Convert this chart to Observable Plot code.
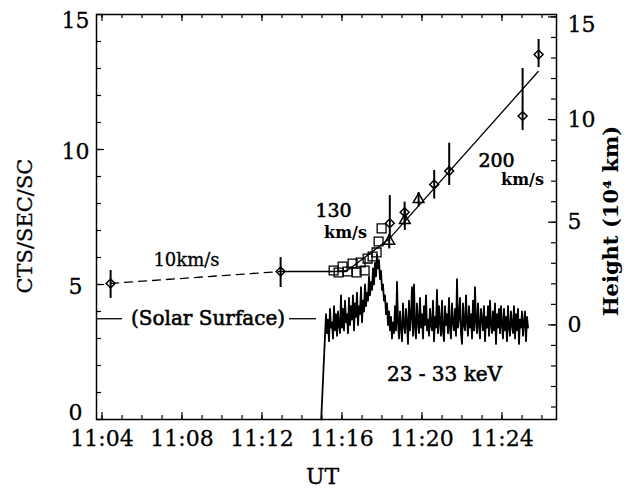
<!DOCTYPE html>
<html><head><meta charset="utf-8">
<script src="https://cdn.jsdelivr.net/npm/d3@7"></script>
<script src="https://cdn.jsdelivr.net/npm/@observablehq/plot@0.6"></script>
<style>body{margin:0;background:#fff;}</style>
</head><body><div id="chart"></div>
<script>
// time axis: minutes after 11:00 UT
const xTickValues = [4, 8, 12, 16, 20, 24];
const xTickLabels = ["11:04", "11:08", "11:12", "11:16", "11:20", "11:24"];
const xMinorTicks = d3.range(4, 27);
const yTickValues = [0, 5, 10, 15];
const yMinorTicks = d3.range(0, 16);
const hTickValues = [0, 5, 10, 15];
const hMinorTicks = d3.range(-4, 16);

// height (10^4 km) expressed on the CTS/SEC/SC axis
const H0 = 3.504, HK = 0.7604;
const hToC = h => H0 + HK * h;

// diamonds: time (min), height, error bar low/high (10^4 km)
const diamondT  = [4.43, 12.93, 18.39, 19.13, 20.61, 21.36, 25.03, 25.83];
const diamondH  = [2.02, 2.60, 4.95, 5.49, 6.84, 7.49, 10.17, 13.17];
const diamondLo = [1.29, 1.82, 4.21, 4.84, 6.13, 6.79, 9.47, 12.53];
const diamondHi = [2.65, 3.28, 6.30, 5.98, 7.52, 8.85, 12.49, 13.90];

// triangles
const triT = [18.36, 19.14, 19.83];
const triH = [4.08, 5.09, 6.11];
const triLo = [3.70, 4.60, 5.75];
const triHi = [4.40, 5.60, 6.45];

// squares
const sqT = [15.58, 15.83, 16.03, 16.28, 16.53, 16.73, 16.93, 17.13, 17.28, 17.53, 17.73, 17.83, 17.98];
const sqH = [2.65, 2.55, 2.84, 2.60, 2.99, 2.55, 3.04, 2.65, 3.23, 3.33, 3.53, 4.06, 4.70];

// fitted height-time tracks
const dashedFitT = [4.43, 12.93];
const dashedFitH = [2.02, 2.60];
const solidFitT = [12.93, 16.2, 18.36, 25.81];
const solidFitH = [2.60, 2.60, 4.19, 12.34];

// solar surface marker (height)
const solarSurfaceH = 0.3;
const solarSegLeft = [3.725, 5.03];
const solarSegRight = [13.375, 14.725];

// 23-33 keV light curve (CTS/SEC/SC), 3 s samples
const xrayLeadT = [14.96], xrayLeadC = [0];
const xrayStartT = 15.2, xrayStep = 0.05;
const xrayC = [
  3.9, 3.2, 3.7, 2.9, 4.1, 3.4, 3.6, 3.0, 4.2, 3.3, 3.9, 3.1, 4.0, 3.5, 3.2, 4.6, 3.4,
  4.1, 3.3, 4.4, 3.6, 3.9, 3.2, 4.5, 3.5, 4.2, 3.7, 4.6, 3.3, 4.3, 3.8, 4.7, 3.5, 4.2, 3.9, 4.9, 3.6,
  4.4, 4.0, 5.0, 4.2, 4.7, 4.4, 5.3, 4.6, 5.1, 4.8, 5.6, 5.0, 5.8, 5.3, 6.1, 5.6,
  5.9, 5.2, 5.5, 4.8, 5.0, 4.4, 4.6, 3.9, 4.3, 3.5, 4.0, 3.3, 3.8, 3.0, 3.6, 3.2,
  4.2, 3.3, 5.1, 3.6, 3.0, 4.0, 3.4, 2.9, 4.3, 3.5,
  3.2, 4.1, 3.6, 2.8, 4.4, 3.3, 3.8, 4.9, 3.1, 5.0,
  3.4, 3.0, 4.3, 3.6, 3.2, 4.5, 3.4, 3.9, 3.0, 4.2,
  3.5, 4.6, 3.3, 3.7, 3.1, 4.1, 3.5, 3.3, 4.4, 2.9,
  3.8, 3.4, 4.8, 3.2, 4.2, 3.6, 3.1, 4.4, 3.3, 2.9,
  4.2, 3.5, 3.9, 3.2, 4.5, 3.4, 3.0, 4.3, 3.6, 3.3,
  4.1, 3.1, 5.2, 3.4, 3.8, 4.5, 3.2, 2.8, 4.3, 3.5,
  3.3, 4.6, 3.6, 3.1, 4.2, 3.4, 3.9, 3.0, 4.4, 3.3,
  4.9, 3.6, 3.2, 4.3, 3.5, 3.0, 4.1, 3.7, 3.3, 4.2,
  2.9, 3.8, 3.4, 4.2, 3.1, 4.4, 3.5, 3.2, 4.0, 3.3,
  4.3, 2.8, 3.9, 3.4, 4.1, 3.2, 4.2, 3.5, 3.0, 4.1,
  3.3, 3.8, 2.9, 4.2, 3.4, 3.1, 4.0, 3.5, 3.2, 4.2,
  3.0, 3.9, 3.3, 4.1, 2.8, 3.7, 3.4, 4.0, 3.1, 3.6,
  4.0, 2.9, 3.8, 3.4
];

// annotation texts (data units: minutes, CTS)
const slowText = ["10km/s"], slowT = [8.225], slowC = [5.89];
const speedText = ["130", "200"], speedT = [15.575, 23.725], speedC = [7.74, 9.59];
const unitText = ["km/s", "km/s"], unitT = [16.175, 25.025], unitC = [6.93, 8.89];
const bandText = ["23 - 33 keV"], bandT = [21.125], bandC = [1.67];
const surfaceText = ["(Solar Surface)"], surfaceT = [9.3];

// build tables
const diamonds = diamondT.map((t, i) => ({t, h: diamondH[i], lo: diamondLo[i], hi: diamondHi[i]}));
const tris = triT.map((t, i) => ({t, h: triH[i], lo: triLo[i], hi: triHi[i]}));
const squares = sqT.map((t, i) => ({t, h: sqH[i]}));
const dashedFit = dashedFitT.map((t, i) => ({t, h: dashedFitH[i]}));
const solidFit = solidFitT.map((t, i) => ({t, h: solidFitH[i]}));
const xray = xrayLeadT.map((t, i) => ({t, c: xrayLeadC[i]}))
  .concat(xrayC.map((c, i) => ({t: xrayStartT + xrayStep * i, c})));
const tbl = (text, T, C) => text.map((s, i) => ({s, t: T[i], c: C[i]}));
const solar = [solarSegLeft, solarSegRight].map(([a, b]) => ({a, b, h: solarSurfaceH}));

const W = 637, Hh = 489, mL = 96, mR = 81, mT = 14, mB = 70;
const pw = W - mL - mR, ph = Hh - mT - mB;
const cx = mL + pw / 2, cy = mT + ph / 2;
const FONT = "DejaVu Serif";
const semi = {stroke: "black", fill: "black"};

const chart = Plot.plot({
  width: W, height: Hh,
  marginLeft: mL, marginRight: mR, marginTop: mT, marginBottom: mB,
  style: {fontFamily: FONT, background: "white", color: "black"},
  x: {domain: [3.725, 26.725], axis: null},
  y: {domain: [0, 15], axis: null},
  marks: [
    // ticks (inward)
    Plot.tickX(xMinorTicks, {x: d => d, insetTop: ph - 4, strokeWidth: 1.2}),
    Plot.tickX(xTickValues, {x: d => d, insetTop: ph - 7, strokeWidth: 1.2}),
    Plot.tickX(xMinorTicks, {x: d => d, insetBottom: ph - 4, strokeWidth: 1.2}),
    Plot.tickX(xTickValues, {x: d => d, insetBottom: ph - 7, strokeWidth: 1.2}),
    Plot.tickY(yMinorTicks, {y: d => d, insetRight: pw - 5, strokeWidth: 1.2}),
    Plot.tickY(yTickValues, {y: d => d, insetRight: pw - 8, strokeWidth: 1.2}),
    Plot.tickY(hMinorTicks, {y: d => hToC(d), insetLeft: pw - 5, strokeWidth: 1.2}),
    Plot.tickY(hTickValues, {y: d => hToC(d), insetLeft: pw - 8, strokeWidth: 1.2}),
    Plot.frame({strokeWidth: 1.5}),
    // tick labels
    Plot.text(xTickValues, {x: d => d, text: (d, i) => xTickLabels[i], frameAnchor: "bottom", dy: 26, fontSize: 22, ...semi, strokeWidth: 0.3}),
    Plot.text(yTickValues.filter(d => d > 0 && d < 15), {y: d => d, text: d => String(d), frameAnchor: "left", dx: -21, dy: 2, textAnchor: "middle", fontSize: 22, ...semi, strokeWidth: 0.3}),
    Plot.text(yTickValues.filter(d => d === 0), {y: d => d, text: d => String(d), frameAnchor: "left", dx: -21, dy: -7, textAnchor: "middle", fontSize: 22, ...semi, strokeWidth: 0.3}),
    Plot.text(yTickValues.filter(d => d === 15), {y: d => d, text: d => String(d), frameAnchor: "left", dx: -21, dy: 6, textAnchor: "middle", fontSize: 22, ...semi, strokeWidth: 0.3}),
    Plot.text(hTickValues.filter(d => d < 15), {y: d => hToC(d), text: d => String(d), frameAnchor: "right", dx: 11, textAnchor: "start", fontSize: 22, ...semi, strokeWidth: 0.3}),
    Plot.text(hTickValues.filter(d => d === 15), {y: d => hToC(d), text: d => String(d), frameAnchor: "right", dx: 11, dy: 8, textAnchor: "start", fontSize: 22, ...semi, strokeWidth: 0.3}),
    // axis titles
    Plot.text(["CTS/SEC/SC"], {frameAnchor: "middle", dx: 25 - cx, dy: 293 - cy, rotate: -90, textAnchor: "start", fontSize: 21, letterSpacing: 1.5, ...semi, strokeWidth: 0.3}),
    Plot.text(["Height (10\u2074 km)"], {frameAnchor: "middle", dx: 611 - cx, dy: 4, rotate: -90, textAnchor: "middle", fontSize: 21, fontWeight: "bold", letterSpacing: 1.2}),
    Plot.text(["UT"], {frameAnchor: "middle", dx: -4, dy: 476 - cy, textAnchor: "middle", fontSize: 22, ...semi, strokeWidth: 0.3}),
    // solar surface
    Plot.ruleY(solar, {y: d => hToC(d.h), x1: "a", x2: "b", strokeWidth: 1.3}),
    Plot.text(surfaceText, {x: surfaceT, y: [hToC(solarSurfaceH)], text: d => d, fontSize: 20, letterSpacing: 1.6, ...semi, strokeWidth: 0.6}),
    // x-ray light curve
    Plot.line(xray, {x: "t", y: "c", stroke: "black", strokeWidth: 1.8}),
    // fits
    Plot.line(dashedFit, {x: "t", y: d => hToC(d.h), strokeDasharray: "8,6", strokeWidth: 1.3}),
    Plot.line(solidFit, {x: "t", y: d => hToC(d.h), strokeWidth: 1.3}),
    // error bars
    Plot.ruleX(diamonds, {x: "t", y1: d => hToC(d.lo), y2: d => hToC(d.hi), strokeWidth: 2}),
    Plot.ruleX(tris, {x: "t", y1: d => hToC(d.lo), y2: d => hToC(d.hi), strokeWidth: 2}),
    // markers
    Plot.dot(squares, {x: "t", y: d => hToC(d.h), symbol: "square", r: 5, stroke: "black", fill: "none", strokeWidth: 1.3}),
    Plot.dot(tris, {x: "t", y: d => hToC(d.h), symbol: "triangle", r: 4, stroke: "black", fill: "none", strokeWidth: 1.5}),
    Plot.dot(diamonds, {x: "t", y: d => hToC(d.h), symbol: "diamond2", r: 4, stroke: "black", fill: "none", strokeWidth: 1.5}),
    // annotations
    Plot.text(tbl(slowText, slowT, slowC), {x: "t", y: "c", text: "s", fontSize: 18, letterSpacing: 1, ...semi, strokeWidth: 0.3}),
    Plot.text(tbl(speedText, speedT, speedC), {x: "t", y: "c", text: "s", fontSize: 19, ...semi, strokeWidth: 0.6}),
    Plot.text(tbl(unitText, unitT, unitC), {x: "t", y: "c", text: "s", fontSize: 16, fontWeight: "bold"}),
    Plot.text(tbl(bandText, bandT, bandC), {x: "t", y: "c", text: "s", fontSize: 20, letterSpacing: 1.2, ...semi, strokeWidth: 0.6})
  ]
});
document.getElementById("chart").appendChild(chart);
</script>
</body></html>
